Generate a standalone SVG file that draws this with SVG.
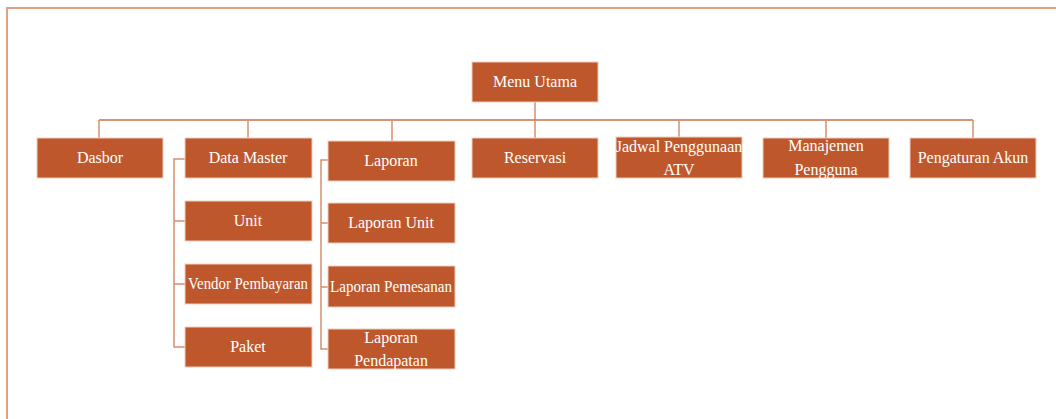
<svg xmlns="http://www.w3.org/2000/svg" width="1056" height="419" viewBox="0 0 1056 419">
  <style>
    .box { fill: #BE582C; stroke: #F0CDBB; stroke-width: 1; }
    .lbl { font-family: "Liberation Serif", "Times New Roman", serif; font-size: 16px; fill: #FFFFFF; text-anchor: middle; }
    .ln { fill: none; stroke: #D98E6A; stroke-width: 1.5; }
    .frame { fill: none; stroke: #E3A184; stroke-width: 2; }
  </style>

  <!-- page frame -->
  <path class="frame" d="M7,419 V8 H1056"/>

  <!-- connectors -->
  <g id="connectors">
    <path class="ln" d="M535,102 V120"/>
    <path class="ln" style="stroke:#C9714B" d="M99,120 H973"/>
    <path class="ln" d="M99,120 V138 M248,120 V138 M392,120 V141 M535,120 V138 M679,120 V137 M826,120 V138 M973,120 V138"/>
    <path class="ln" d="M185,159 H174 V347 H185 M174,221 H185 M174,284 H185"/>
    <path class="ln" d="M328,160 H321 V349 H328 M321,223 H328 M321,287 H328"/>
  </g>

  <g id="menu-utama"><rect class="box" x="472" y="62" width="126" height="40"/><text class="lbl" x="535" y="87">Menu Utama</text></g>

  <g id="dasbor"><rect class="box" x="37" y="138" width="126" height="40"/><text class="lbl" x="100" y="163">Dasbor</text></g>
  <g id="data-master"><rect class="box" x="185" y="138" width="127" height="40"/><text class="lbl" x="248" y="163">Data Master</text></g>
  <g id="laporan"><rect class="box" x="328" y="141" width="127" height="40"/><text class="lbl" x="391" y="166">Laporan</text></g>
  <g id="reservasi"><rect class="box" x="472" y="138" width="126" height="40"/><text class="lbl" x="535" y="163">Reservasi</text></g>
  <g id="jadwal"><rect class="box" x="616" y="137" width="126" height="41"/><text class="lbl" x="679" y="152">Jadwal Penggunaan</text><text class="lbl" x="679" y="175">ATV</text></g>
  <g id="manajemen"><rect class="box" x="763" y="138" width="126" height="40"/><text class="lbl" x="826" y="151">Manajemen</text><text class="lbl" x="826" y="175">Pengguna</text></g>
  <g id="pengaturan-akun"><rect class="box" x="910" y="138" width="126" height="40"/><text class="lbl" x="973" y="163">Pengaturan Akun</text></g>

  <g id="unit"><rect class="box" x="185" y="201" width="127" height="40"/><text class="lbl" x="248" y="226">Unit</text></g>
  <g id="vendor-pembayaran"><rect class="box" x="185" y="264" width="127" height="40"/><text class="lbl" x="248" y="289" textLength="120" lengthAdjust="spacingAndGlyphs">Vendor Pembayaran</text></g>
  <g id="paket"><rect class="box" x="185" y="327" width="127" height="40"/><text class="lbl" x="248" y="352">Paket</text></g>

  <g id="laporan-unit"><rect class="box" x="328" y="203" width="127" height="40"/><text class="lbl" x="391" y="228">Laporan Unit</text></g>
  <g id="laporan-pemesanan"><rect class="box" x="328" y="266" width="127" height="41"/><text class="lbl" x="391" y="292" textLength="122" lengthAdjust="spacingAndGlyphs">Laporan Pemesanan</text></g>
  <g id="laporan-pendapatan"><rect class="box" x="328" y="329" width="127" height="40"/><text class="lbl" x="391" y="343">Laporan</text><text class="lbl" x="391" y="366">Pendapatan</text></g>
</svg>
